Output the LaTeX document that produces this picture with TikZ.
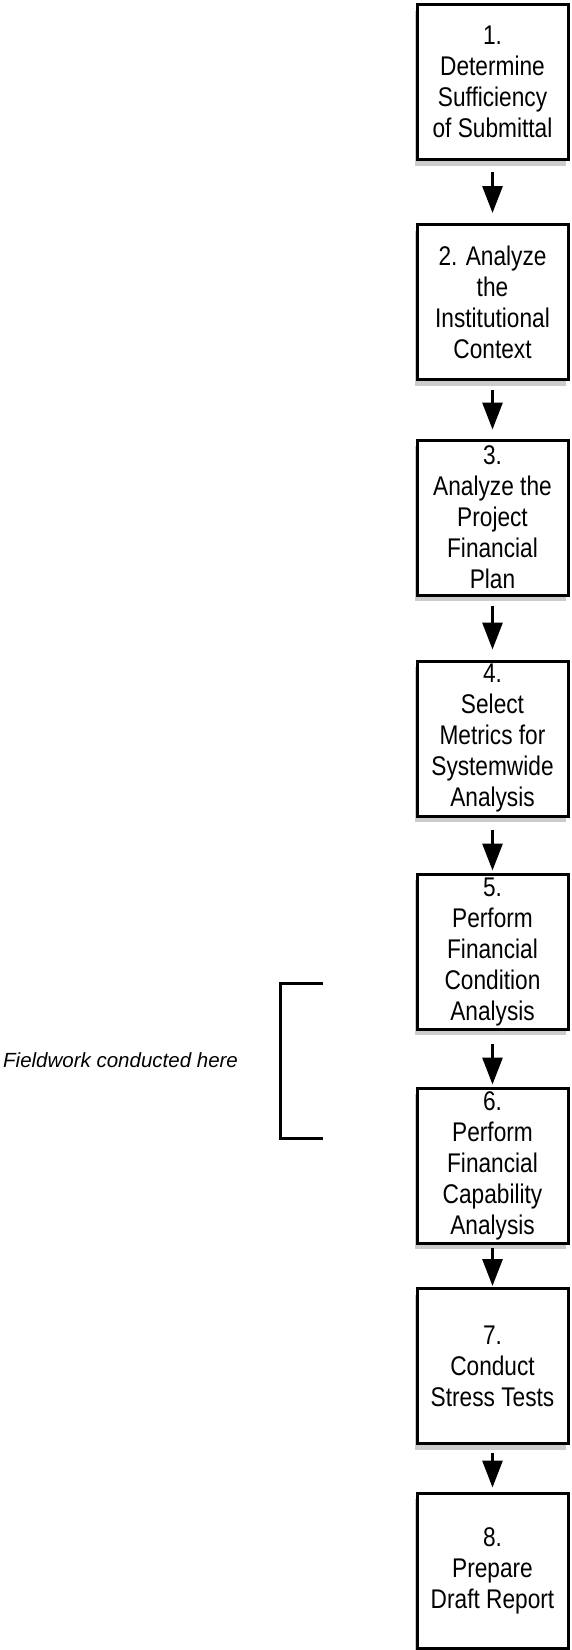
\documentclass[tikz,border=0pt]{standalone}
\usepackage{fontspec}
\setmainfont{Liberation Sans}
\newfontfamily\boxfont{Liberation Sans}[FakeStretch=0.84]
\usetikzlibrary{arrows.meta,shadows}
\tikzset{
	stepbox/.style={draw, line width=3pt, fill=white, minimum width=151pt, minimum height=155pt, inner sep=0pt, align=center, font=\boxfont\fontsize{27}{31}\selectfont, drop shadow={shadow xshift=-2pt, shadow yshift=-6pt, opacity=0.4}},
	flow/.style={line width=3pt, -{Triangle[width=20pt,length=27pt]}},
	bracket/.style={line width=3pt},
}

\begin{document}
\begin{tikzpicture}[x=1pt, y=-1pt]
		%%%%% START %%%%%
		\useasboundingbox (0, 0) rectangle (572, 1650);
		
		\node[stepbox] (b1) at (492.5, 82) {1.\\Determine\\Sufficiency\\of Submittal};
		\node[stepbox] (b2) at (492.5, 302) {2. Analyze\\the\\Institutional\\Context};
		\node[stepbox] (b3) at (492.5, 517.5) {3.\\Analyze the\\Project\\Financial\\Plan};
		\node[stepbox] (b4) at (492.5, 738.5) {4.\\Select\\Metrics for\\Systemwide\\Analysis};
		\node[stepbox] (b5) at (492.5, 951.5) {5.\\Perform\\Financial\\Condition\\Analysis};
		\node[stepbox] (b6) at (492.5, 1165.5) {6.\\Perform\\Financial\\Capability\\Analysis};
		\node[stepbox] (b7) at (492.5, 1366) {7.\\Conduct\\Stress Tests};
		\node[stepbox] (b8) at (492.5, 1570.5) {8.\\Prepare\\Draft Report};
		
		\foreach \a/\b/\s/\e in {b1/b2/11/10, b2/b3/9/9, b3/b4/9/10, b4/b5/12/2, b5/b6/13/2, b6/b7/3/1, b7/b8/8/4}
			\draw[flow, shorten <=\s pt, shorten >=\e pt] (\a) -- (\b);
		
		\draw[bracket] (323, 983) -- (280, 983) -- (280, 1138) -- (323, 1138);
		\node[anchor=west, inner sep=0pt, font=\itshape\fontsize{20.5}{24}\selectfont] (field) at (3, 1060) {Fieldwork conducted here};
		
		%%%%% END %%%%%
\end{tikzpicture}
\end{document}
